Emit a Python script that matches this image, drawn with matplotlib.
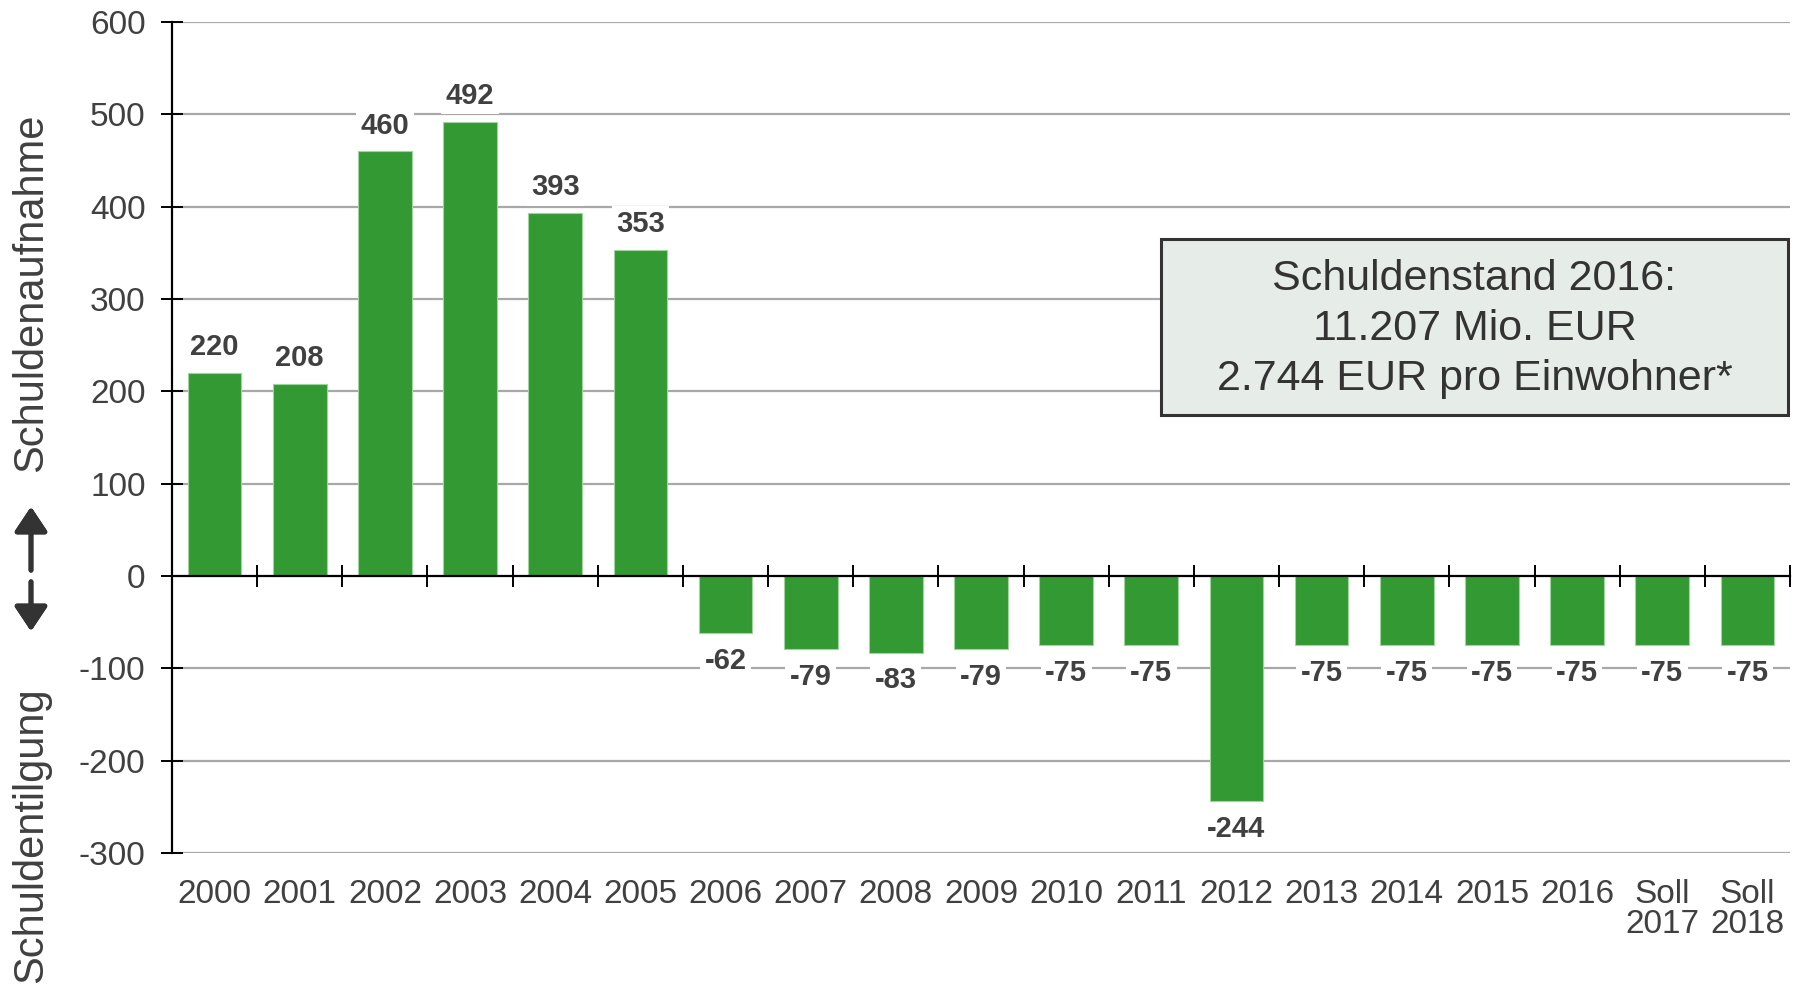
import numpy as np
import matplotlib.pyplot as plt
from matplotlib.patches import Rectangle

plt.rcParams['font.family'] = ['Liberation Sans', 'DejaVu Sans']
plt.rcParams['axes.unicode_minus'] = False

# data
jahre = ["2000", "2001", "2002", "2003", "2004", "2005", "2006", "2007", "2008", "2009",
         "2010", "2011", "2012", "2013", "2014", "2015", "2016", "Soll\n2017", "Soll\n2018"]
werte = [220, 208, 460, 492, 393, 353, -62, -79, -83, -79,
         -75, -75, -244, -75, -75, -75, -75, -75, -75]
box_zeilen = ["Schuldenstand 2016:", "11.207 Mio. EUR", "2.744 EUR pro Einwohner*"]

W, H = 1802, 984
fig = plt.figure(figsize=(W / 100, H / 100), dpi=100)
ax = fig.add_axes([172 / W, 1 - 853 / H, (1790 - 172) / W, (853 - 22) / H])

grau = '#404040'
x = np.arange(len(werte))
ax.bar(x, werte, width=0.63, color='#339933', edgecolor='#9fd49f', linewidth=0.8, zorder=3)

ax.set_xlim(-0.5, len(werte) - 0.5)
ax.set_ylim(-300, 600)
ax.set_yticks(np.arange(-300, 601, 100))
for y in np.arange(-300, 601, 100):
    if y != 0:
        ax.axhline(y, color='#a8a8a8', lw=1.6, zorder=1)

# axes / spines
for s in ['top', 'right']:
    ax.spines[s].set_visible(False)
ax.spines['left'].set_linewidth(1.6)
ax.spines['bottom'].set_position(('data', 0))
ax.spines['bottom'].set_linewidth(1.6)
ax.spines['bottom'].set_zorder(4)
ax.set_xticks(np.arange(-0.5, len(werte)), labels=[])
ax.tick_params(axis='x', direction='inout', length=16, width=1.4)
ax.tick_params(axis='y', direction='inout', length=16, width=1.4, pad=11,
               labelsize=24, labelcolor=grau)

# category labels at bottom
sec = ax.secondary_xaxis(location=0)
sec.set_xticks(x, labels=jahre)
sec.tick_params(length=0, pad=19, labelsize=24, labelcolor=grau)
sec.spines['bottom'].set_visible(False)
for t in sec.get_xticklabels():
    t.set_linespacing(0.95)

# value labels
for xi, v in zip(x, werte):
    off = 18.5 if v > 0 else -20
    ax.annotate(str(v), (xi, v), xytext=(0, off), textcoords='offset points',
                ha='center', va='center', fontsize=21, fontweight='bold', color=grau,
                bbox=dict(boxstyle='square,pad=0.15', fc='white', ec='none'), zorder=5)

# info box
bx0, by0, bx1, by1 = 1161, 239, 1788, 415
fig.patches.append(Rectangle((bx0 / W, 1 - by1 / H), (bx1 - bx0) / W, (by1 - by0) / H,
                             transform=fig.transFigure, fc='#e6ece8', ec='#333333', lw=2.2))
fig.text((bx0 + bx1) / 2 / W, 1 - (by0 + by1 + 4) / 2 / H, "\n".join(box_zeilen),
         ha='center', va='center', fontsize=31, color='#333333', linespacing=1.32,
         multialignment='center')

# y axis labels with double arrow
fig.text(31 / W, 1 - 293 / H, "Schuldenaufnahme", rotation=90, ha='center', va='center',
         fontsize=30, color=grau)
fig.text(31 / W, 1 - 983 / H, "Schuldentilgung", rotation=90, ha='center', va='bottom',
         fontsize=30, color=grau)
for y_end in (504, 634):
    fig.add_artist(plt.annotate('', xy=(31 / W, 1 - y_end / H), xycoords='figure fraction',
                                xytext=(31 / W, 1 - (576 + (-3 if y_end < 576 else 3)) / H),
                                textcoords='figure fraction',
                                arrowprops=dict(arrowstyle='-|>,head_width=0.5,head_length=0.75',
                                                mutation_scale=20, color='#333333', lw=3.5)))

plt.savefig('out.png', dpi=100)
